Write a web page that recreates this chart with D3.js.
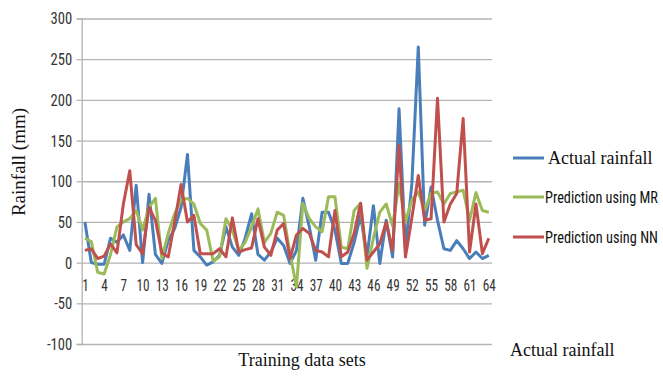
<!DOCTYPE html>
<html>
<head>
<meta charset="utf-8">
<script src="https://cdn.jsdelivr.net/npm/d3@7"></script>
<style>
  body { margin: 0; background: #fff; }
  .narrow { font-family: "Liberation Sans Narrow", "Roboto Condensed", "Roboto", "DejaVu Sans Condensed", sans-serif; }
  .serif { font-family: "Liberation Serif", "DejaVu Serif", serif; }
</style>
</head>
<body>
<div id="area"></div>
<script>
var categories = d3.range(1, 65);
var xTickLabels = d3.range(1, 65, 3);
var yTicks = [-100, -50, 0, 50, 100, 150, 200, 250, 300];

var actualRainfall = [50, 0, -2, -2, 30, 25, 34, 15, 95, 0, 84, 10, -1, 27, 42, 68,
  133, 15, 7, -3, 1, 9, 44, 19, 9, 30, 60, 10, 3, 13, 30, 21,
  -1, 15, 79, 44, 3, 62, 62, 40, -1, -1, 25, 58, 7, 70, -1, 52,
  7, 189, 17, 97, 265, 46, 93, 52, 17, 15, 27, 17, 5, 13, 5, 9];
var predictionMR = [30, 26, -12, -14, 10, 44, 50, 54, 64, 40, 68, 79, 5, 36, 60, 77,
  79, 72, 48, 40, 2, 7, 54, 40, 15, 25, 44, 66, 25, 36, 62, 58,
  11, -30, 73, 54, 44, 38, 81, 81, 19, 17, 64, 73, -7, 30, 62, 72,
  45, 97, 50, 77, 87, 64, 85, 87, 72, 85, 87, 89, 52, 86, 64, 62];
var predictionNN = [15, 17, 5, 8, 23, 12, 72, 113, 22, 11, 68, 52, 12, 7, 50, 96,
  50, 58, 11, 11, 11, 17, 7, 55, 13, 16, 18, 54, 19, 9, 40, 48,
  5, 34, 42, 36, 15, 13, 7, 64, 7, 13, 36, 73, 3, 13, 23, 50,
  15, 144, 7, 55, 107, 52, 54, 202, 50, 72, 85, 177, 13, 72, 11, 30];

var seriesNames = ["Actual rainfall", "Prediction using MR", "Prediction using NN"];
var seriesColors = ["#4a7ebb", "#9bbb59", "#c0504d"];

var margin = { top: 18.5, right: 171, bottom: 33, left: 81.7 },
  width = 663 - margin.left - margin.right,
  height = 377 - margin.top - margin.bottom;

var svG = d3.select("#area")
  .append("svg")
  .attr("width", 663)
  .attr("height", 377)
  .append("g")
  .attr("transform", "translate(" + margin.left + "," + margin.top + ")");

var xScale = d3.scalePoint()
  .domain(categories)
  .range([0, width])
  .padding(0.5);

var yScale = d3.scaleLinear()
  .domain([-100, 300])
  .range([height, 0]);

// gridlines
svG.append('g')
  .call(d3.axisLeft(yScale).tickValues(yTicks).tickSize(-width).tickFormat(""))
  .call(function (g) {
    g.select(".domain").remove();
    g.selectAll("line").attr("stroke", "#b3b3b3").attr("stroke-width", 1.3);
  });

// y axis with small outer ticks
svG.append('g')
  .call(d3.axisLeft(yScale).tickValues(yTicks).tickSize(5).tickPadding(0)
    .tickFormat(function (d) { return String(d); }))
  .call(function (g) {
    g.select(".domain").attr("stroke", "#b3b3b3").attr("stroke-width", 1.3);
    g.selectAll("line").attr("stroke", "#b3b3b3").attr("stroke-width", 1.3);
    g.selectAll("text")
      .attr("class", "narrow")
      .attr("x", -11)
      .attr("transform", "scale(0.86,1)")
      .style("font-size", "17px")
      .attr("fill", "#333");
  });

// x labels, sitting between 0 and -50
svG.append('g')
  .attr("transform", "translate(0," + yScale(-35) + ")")
  .call(d3.axisBottom(xScale).tickValues(xTickLabels).tickSize(0).tickPadding(0))
  .call(function (g) {
    g.select(".domain").remove();
    g.selectAll("text")
      .attr("class", "narrow")
      .attr("dy", "0")
      .attr("transform", "scale(0.78,1)")
      .style("font-size", "17px")
      .attr("fill", "#333");
  });

var allSeries = [actualRainfall, predictionMR, predictionNN];

var line = d3.line()
  .x(function (d, i) { return xScale(categories[i]); })
  .y(function (d) { return yScale(d); });

svG.selectAll(".series")
  .data(allSeries)
  .enter()
  .append("path")
  .attr("class", "series")
  .attr("d", line)
  .attr("fill", "none")
  .attr("stroke", function (d, i) { return seriesColors[i]; })
  .attr("stroke-width", 3)
  .attr("stroke-linejoin", "round");

// legend
var legend = svG.append("g")
  .attr("transform", "translate(" + (513 - margin.left) + "," + (158 - margin.top) + ")");

var legendRows = legend.selectAll(".row")
  .data(seriesNames)
  .enter()
  .append("g")
  .attr("transform", function (d, i) { return "translate(0," + [0, 39, 79][i] + ")"; });

legendRows.append("line")
  .attr("x1", 0).attr("x2", 31)
  .attr("stroke", function (d, i) { return seriesColors[i]; })
  .attr("stroke-width", 3);

legendRows.append("text")
  .attr("dy", "0.35em")
  .attr("class", function (d, i) { return i == 0 ? "serif" : "narrow"; })
  .style("font-size", function (d, i) { return i == 0 ? "18px" : "17px"; })
  .attr("fill", "#111")
  .text(function (d) { return d; })
  .each(function (d, i) {
    // squeeze the sans labels to a condensed look
    if (i == 0) { d3.select(this).attr("x", 35); return; }
    var w = this.getComputedTextLength();
    var k = 113 / w;
    d3.select(this).attr("transform", "translate(32,0) scale(" + k + ",1)");
  });

// titles
d3.select("svg").append("text")
  .attr("class", "serif")
  .attr("transform", "translate(25,162) rotate(-90)")
  .attr("text-anchor", "middle")
  .style("font-size", "19px")
  .attr("fill", "#111")
  .text("Rainfall  (mm)");

d3.select("svg").append("text")
  .attr("class", "serif")
  .attr("x", 302).attr("y", 366)
  .attr("text-anchor", "middle")
  .style("font-size", "18px")
  .attr("fill", "#111")
  .text("Training data sets");

d3.select("svg").append("text")
  .attr("class", "serif")
  .attr("x", 510).attr("y", 356)
  .style("font-size", "18px")
  .attr("fill", "#111")
  .text("Actual rainfall");
</script>
</body>
</html>
